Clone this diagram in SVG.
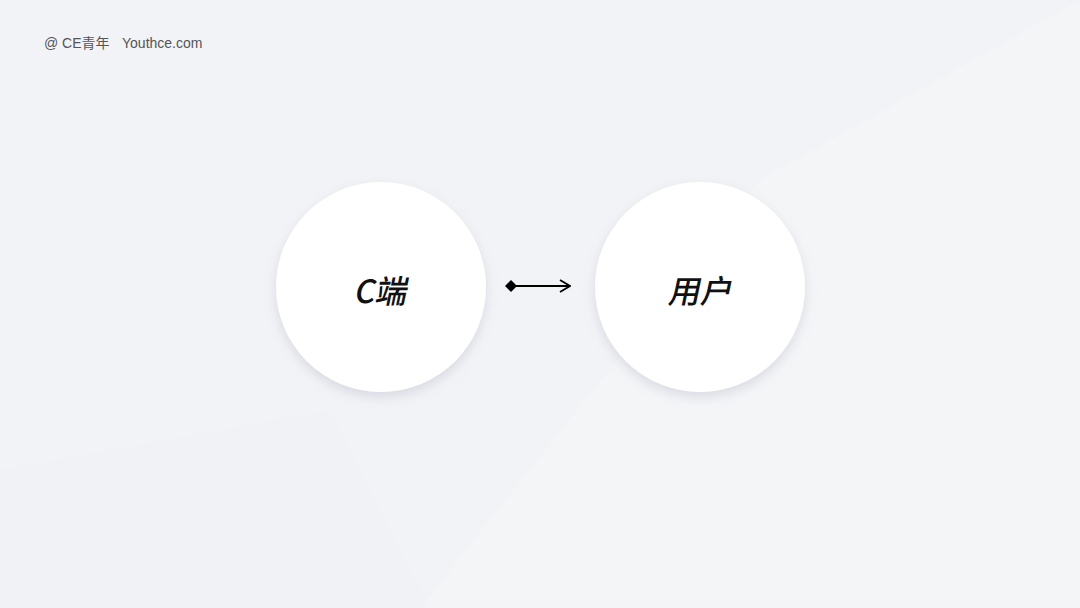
<svg xmlns="http://www.w3.org/2000/svg" width="1080" height="608" viewBox="0 0 1080 608">
<style>
.lbl{font-family:"Noto Sans CJK SC","Noto Sans",sans-serif;font-weight:500;font-size:32px;fill:#111;text-anchor:middle}
.hdr{font-family:"Liberation Sans","Noto Sans CJK SC",sans-serif;font-size:14px;fill:#555}
.node{fill:#fff;filter:url(#sh)}
</style>
<defs>
<filter id="sh" x="-30%" y="-30%" width="160%" height="160%">
<feDropShadow dx="0" dy="5" stdDeviation="6" flood-color="#9aa0b4" flood-opacity="0.3"/>
</filter>
<marker id="dia" viewBox="0 0 12 12" refX="6" refY="6" markerWidth="12" markerHeight="12" markerUnits="userSpaceOnUse" orient="auto">
<path d="M0,6 L6,0 L12,6 L6,12 Z" fill="#000"/>
</marker>
<marker id="chev" viewBox="0 0 12 14" refX="11" refY="7" markerWidth="12" markerHeight="14" markerUnits="userSpaceOnUse" orient="auto">
<path d="M1,1 L11,7 L1,13" fill="none" stroke="#000" stroke-width="1.8"/>
</marker>
</defs>
<rect width="1080" height="608" fill="#f2f3f6"/>
<polygon points="760,180 1080,0 1080,608 420,608" fill="#f5f6f8" opacity="0.6"/>
<polygon points="0,608 0,470 330,410 430,608" fill="#eef0f4" opacity="0.4"/>
<text class="hdr" x="44" y="48">@ CE青年</text>
<text class="hdr" x="122" y="48">Youthce.com</text>
<g id="connectors">
<line x1="511" y1="286" x2="570" y2="286" stroke="#000" stroke-width="2" marker-start="url(#dia)" marker-end="url(#chev)"/>
</g>
<g id="node-c">
<circle class="node" cx="381" cy="287" r="105"/>
<text class="lbl" x="380" y="303" transform="skewX(-12) translate(64,0)">C端</text>
</g>
<g id="node-user">
<circle class="node" cx="700" cy="287" r="105"/>
<text class="lbl" x="700" y="303" transform="skewX(-12) translate(64,0)">用户</text>
</g>
</svg>
